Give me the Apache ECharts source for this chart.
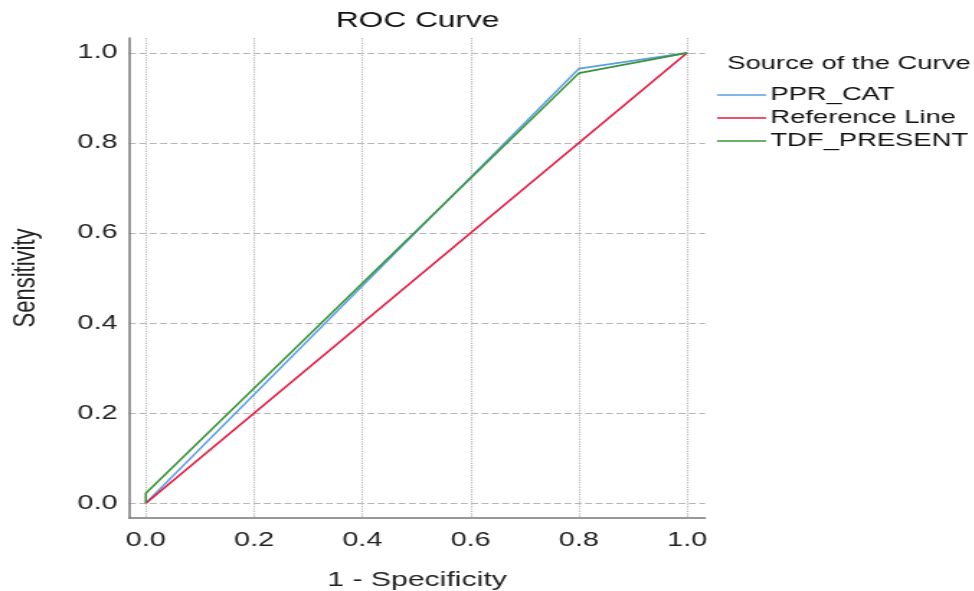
<!DOCTYPE html>
<html>
<head>
<meta charset="utf-8">
<script src="https://cdn.jsdelivr.net/npm/echarts@6/dist/echarts.min.js"></script>
<style>
  html, body { margin: 0; padding: 0; background: #fff; overflow: hidden; }
  /* the reference is a horizontally stretched picture, so the chart is drawn narrow and stretched */
  #main { width: 676px; height: 591px; transform: scaleX(1.44); transform-origin: 0 0; }
</style>
</head>
<body>
<div id="main"></div>
<script>
var tickValues = [0, 0.2, 0.4, 0.6, 0.8, 1.0];

var pprX = [0, 0.8, 1];
var pprY = [0, 0.965, 1];
var refX = [0, 1];
var refY = [0, 1];
var tdfX = [0, 0, 0.8, 1];
var tdfY = [0, 0.022, 0.955, 1];

function pairs(xs, ys) {
    return xs.map(function (x, i) { return [x, ys[i]]; });
}

var font = 'Liberation Sans';

var option = {
    animation: false,
    textStyle: { fontFamily: font },
    graphic: [
        {
            type: 'text', x: 290, y: 21,
            style: { text: 'ROC Curve', fontSize: 22, fontFamily: font, fill: '#111', align: 'center', verticalAlign: 'middle' }
        },
        {
            type: 'text', x: 505, y: 64,
            style: { text: 'Source of the Curve', fontSize: 19, fontFamily: font, fill: '#111', align: 'left', verticalAlign: 'middle' }
        }
    ],
    legend: {
        orient: 'vertical',
        left: 498,
        top: 85,
        itemWidth: 34,
        itemHeight: 1.5,
        itemGap: 3,
        padding: 0,
        data: [
            { name: 'PPR_CAT', icon: 'rect', itemStyle: { color: '#5b9fe3' } },
            { name: 'Reference Line', icon: 'rect', itemStyle: { color: '#e3193f' } },
            { name: 'TDF_PRESENT', icon: 'rect', itemStyle: { color: '#3a953a' } }
        ],
        textStyle: { fontSize: 19, color: '#111', fontFamily: font, lineHeight: 20, padding: [0, 0, 0, -2] }
    },
    grid: {
        left: 89.6,
        top: 38,
        width: 400,
        bottom: 73,
        outerBoundsMode: 'none',
        containLabel: false
    },
    xAxis: {
        type: 'value',
        min: -0.031,
        max: 1.033,
        name: '1 - Specificity',
        nameLocation: 'middle',
        nameGap: 52,
        nameTextStyle: { fontSize: 21, color: '#222', fontFamily: font },
        axisLine: { onZero: false, lineStyle: { color: '#777', width: 1.5 } },
        axisTick: { show: false, customValues: tickValues },
        axisLabel: {
            customValues: tickValues,
            fontSize: 20, color: '#222', margin: 12,
            formatter: function (v) { return v.toFixed(1); }
        },
        splitLine: { show: true, lineStyle: { color: '#b5b5b5', type: 'dotted', width: 1.2 } }
    },
    yAxis: {
        type: 'value',
        min: -0.033,
        max: 1.033,
        name: 'Sensitivity',
        nameLocation: 'middle',
        nameGap: 61,
        nameTextStyle: { fontSize: 22, color: '#222', fontFamily: font },
        axisLine: { show: true, onZero: false, lineStyle: { color: '#777', width: 1.5 } },
        axisTick: { show: false, customValues: tickValues },
        axisLabel: {
            customValues: tickValues,
            fontSize: 20, color: '#222', margin: 8,
            formatter: function (v) { return v.toFixed(1); }
        },
        splitLine: { show: true, lineStyle: { color: '#b5b5b5', type: 'dashed', width: 1.2 } }
    },
    color: ['#5b9fe3', '#e3193f', '#3a953a'],
    series: [
        {
            name: 'PPR_CAT', type: 'line', symbol: 'none',
            lineStyle: { width: 1.6 },
            data: pairs(pprX, pprY)
        },
        {
            name: 'Reference Line', type: 'line', symbol: 'none',
            lineStyle: { width: 1.6 },
            data: pairs(refX, refY)
        },
        {
            name: 'TDF_PRESENT', type: 'line', symbol: 'none',
            lineStyle: { width: 1.6 },
            data: pairs(tdfX, tdfY)
        }
    ]
};

var chart = echarts.init(document.getElementById('main'));
chart.setOption(option);
</script>
</body>
</html>
